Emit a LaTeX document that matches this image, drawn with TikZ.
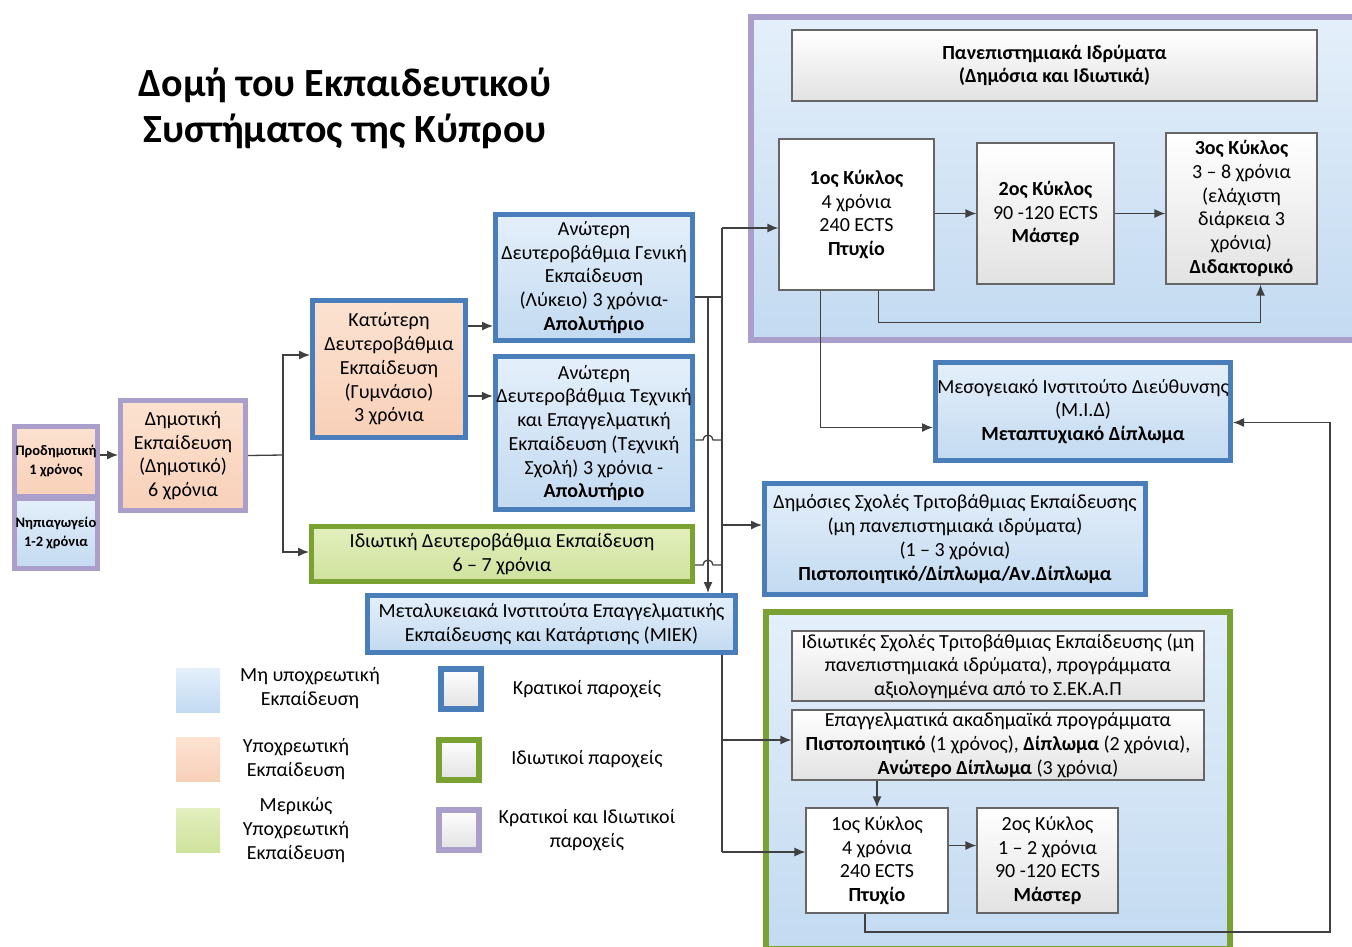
\documentclass[tikz,border=0pt]{standalone}
\usepackage{fontspec}
\setmainfont{Carlito}
\usetikzlibrary{arrows.meta,positioning,calc}

\definecolor{kratBlue}{HTML}{4A7EBB}
\definecolor{idiotGreen}{HTML}{7AA232}
\definecolor{miktoPurple}{HTML}{AA9ECB}
\definecolor{blueTop}{HTML}{E4EFFA}
\definecolor{blueBot}{HTML}{C3DAF1}
\definecolor{orangeTop}{HTML}{FCE2D1}
\definecolor{orangeBot}{HTML}{F8D0B8}
\definecolor{greenTop}{HTML}{E3EFBE}
\definecolor{greenBot}{HTML}{CFE29C}
\definecolor{greyBot}{HTML}{E2E2E2}
\definecolor{lineGrey}{HTML}{404040}

\begin{document}
\begin{tikzpicture}
  [>={Latex[length=11pt,width=9pt]}, x=1pt, y=-1pt]

% canvas
\useasboundingbox (0,0) rectangle (1352,946);

% define styles
\tikzstyle{box} = [rectangle, align=center, inner sep=1pt, text=black, font=\fontsize{20}{23.7}\selectfont];
\tikzstyle{kratiko} = [box, draw=kratBlue, line width=5pt, top color=blueTop, bottom color=blueBot];
\tikzstyle{plaisio} = [box, draw=lineGrey!80, line width=1.2pt, top color=white, bottom color=greyBot];
\tikzstyle{leuko} = [box, draw=lineGrey!80, line width=1.2pt, fill=white];
\tikzstyle{leg} = [rectangle, minimum width=40pt, minimum height=40pt];
\tikzstyle{legtext} = [align=center, font=\fontsize{20}{23.7}\selectfont];
\tikzstyle{con} = [draw=lineGrey, line width=1.3pt];

% define new commands
\newcommand{\conHop}[1]{
  \draw [con] (#1) -- ([xshift=-5pt] #1 -| drop)
    arc [start angle=180, end angle=0, radius=5pt] -- (#1 -| busTop);
}

% title
\node [align=center, font=\fontsize{40}{46}\selectfont\bfseries] (titlos) at (345,108)
  {Δομή του Εκπαιδευτικού\\Συστήματος της Κύπρου};

% outer frames
\node [draw=miktoPurple, line width=6pt, top color=blueTop, bottom color=blueBot,
  minimum width=604pt, minimum height=323pt] (panep) at (1053,178.5) {};
\node [draw=idiotGreen, line width=6pt, top color=blueTop, bottom color=blueBot,
  minimum width=464pt, minimum height=337pt] (idiotTrit) at (998,780.5) {};

% draw nodes
\node [box, draw=miktoPurple, line width=5pt, top color=orangeTop, bottom color=orangeBot,
  minimum width=83pt, minimum height=70pt, font=\fontsize{14.5}{19}\selectfont\bfseries]
  (prodim) at (56,461) {Προδημοτική\\1 χρόνος};
\node [box, draw=miktoPurple, line width=5pt, top color=blueTop, bottom color=blueBot,
  minimum width=83pt, minimum height=70pt, font=\fontsize{14.5}{19}\selectfont\bfseries]
  (nipio) at (56,533) {Νηπιαγωγείο\\1-2 χρόνια};
\node [box, draw=miktoPurple, line width=5pt, top color=orangeTop, bottom color=orangeBot,
  minimum width=125pt, minimum height=110pt] (dimotiki) at (183,455.5)
  {Δημοτική\\Εκπαίδευση\\(Δημοτικό)\\6 χρόνια};
\node [kratiko, top color=orangeTop, bottom color=orangeBot,
  minimum width=153pt, minimum height=137pt] (gymnasio) at (389,369)
  {Κατώτερη\\Δευτεροβάθμια\\Εκπαίδευση\\(Γυμνάσιο)\\3 χρόνια};
\node [kratiko, minimum width=197pt, minimum height=126pt] (lykeio) at (594,277.5)
  {Ανώτερη\\Δευτεροβάθμια Γενική\\Εκπαίδευση\\(Λύκειο) 3 χρόνια-\\\textbf{Απολυτήριο}};
\node [kratiko, minimum width=197pt, minimum height=153pt] (texniki) at (594,433)
  {Ανώτερη\\Δευτεροβάθμια Τεχνική\\και Επαγγελματική\\Εκπαίδευση (Τεχνική\\Σχολή) 3 χρόνια -\\\textbf{Απολυτήριο}};
\node [box, draw=idiotGreen, line width=5pt, top color=greenTop, bottom color=greenBot,
  minimum width=381pt, minimum height=55pt] (idiotiki) at (502,554)
  {Ιδιωτική Δευτεροβάθμια Εκπαίδευση\\6 – 7 χρόνια};
\node [kratiko, minimum width=368pt, minimum height=57pt] (miek) at (551.5,624)
  {Μεταλυκειακά Ινστιτούτα Επαγγελματικής\\Εκπαίδευσης και Κατάρτισης (ΜΙΕΚ)};

\node [plaisio, minimum width=525pt, minimum height=71pt] (panepTitlos) at (1054.5,65.5)
  {\textbf{Πανεπιστημιακά Ιδρύματα}\\\textbf{(Δημόσια και Ιδιωτικά)}};
\node [leuko, minimum width=155pt, minimum height=151pt] (kyklosA) at (856.5,214.5)
  {\textbf{1ος Κύκλος}\\4 χρόνια\\240 ECTS\\\textbf{Πτυχίο}};
\node [plaisio, minimum width=137pt, minimum height=141pt] (kyklosB) at (1045.5,213.5)
  {\textbf{2ος Κύκλος}\\90 -120 ECTS\\\textbf{Μάστερ}};
\node [plaisio, minimum width=151pt, minimum height=151pt] (kyklosC) at (1241.5,208.5)
  {\textbf{3ος Κύκλος}\\3 – 8 χρόνια\\(ελάχιστη\\διάρκεια 3\\χρόνια)\\\textbf{Διδακτορικό}};

\node [kratiko, minimum width=295pt, minimum height=98pt] (mid) at (1083,411.5)
  {Μεσογειακό Ινστιτούτο Διεύθυνσης\\(Μ.Ι.Δ)\\\textbf{Μεταπτυχιακό Δίπλωμα}};
\node [kratiko, minimum width=381pt, minimum height=111pt] (dimosies) at (955,539)
  {Δημόσιες Σχολές Τριτοβάθμιας Εκπαίδευσης\\(μη πανεπιστημιακά ιδρύματα)\\(1 – 3 χρόνια)\\\textbf{Πιστοποιητικό/Δίπλωμα/Αν.Δίπλωμα}};

\node [plaisio, minimum width=412pt, minimum height=70pt] (idiotSxoles) at (998,666)
  {Ιδιωτικές Σχολές Τριτοβάθμιας Εκπαίδευσης (μη\\πανεπιστημιακά ιδρύματα), προγράμματα\\αξιολογημένα από το Σ.ΕΚ.Α.Π};
\node [plaisio, minimum width=412pt, minimum height=70pt] (epag) at (998,745)
  {Επαγγελματικά ακαδημαϊκά προγράμματα\\\textbf{Πιστοποιητικό} (1 χρόνος), \textbf{Δίπλωμα} (2 χρόνια),\\\textbf{Ανώτερο Δίπλωμα} (3 χρόνια)};
\node [leuko, minimum width=142pt, minimum height=105pt] (ikyklosA) at (877,860.5)
  {1ος Κύκλος\\4 χρόνια\\240 ECTS\\\textbf{Πτυχίο}};
\node [plaisio, minimum width=141pt, minimum height=105pt] (ikyklosB) at (1047.5,860.5)
  {2ος Κύκλος\\1 – 2 χρόνια\\90 -120 ECTS\\\textbf{Μάστερ}};

% legend
\node [leg, top color=blueTop, bottom color=blueBot, minimum width=44pt, minimum height=44pt] (legA) at (198,690) {};
\node [leg, top color=orangeTop, bottom color=orangeBot, minimum width=44pt, minimum height=44pt] (legB) at (198,759.5) {};
\node [leg, top color=greenTop, bottom color=greenBot, minimum width=44pt, minimum height=44pt] (legC) at (198,830) {};
\node [leg, draw=kratBlue, line width=6pt, top color=white, bottom color=greyBot] (legD) at (461,688.5) {};
\node [leg, draw=idiotGreen, line width=6pt, top color=white, bottom color=greyBot] (legE) at (459,759.5) {};
\node [leg, draw=miktoPurple, line width=6pt, top color=white, bottom color=greyBot] (legF) at (459,829.5) {};
\node [legtext] (legAtxt) at (310,688) {Μη υποχρεωτική\\Εκπαίδευση};
\node [legtext] (legBtxt) at (296,759) {Υποχρεωτική\\Εκπαίδευση};
\node [legtext] (legCtxt) at (296,830) {Μερικώς\\Υποχρεωτική\\Εκπαίδευση};
\node [legtext] (legDtxt) at (587,689) {Κρατικοί παροχείς};
\node [legtext] (legEtxt) at (587,759) {Ιδιωτικοί παροχείς};
\node [legtext] (legFtxt) at (587,830) {Κρατικοί και Ιδιωτικοί\\παροχείς};

% bus coordinates
\coordinate (split) at (283,455);
\coordinate (busTop) at (722,228);
\coordinate (busBot) at (722,852);
\coordinate (drop) at (708,297);
\coordinate (texOut) at ([yshift=-7pt] texniki.east);
\coordinate (idOut) at ([yshift=-11pt] idiotiki.east);
\coordinate (retour) at (1330,932);

% pre-primary and primary
\draw [con,->] ([yshift=6pt] prodim.east) -- ([yshift=6pt] prodim.east -| dimotiki.west);
\draw [con] (dimotiki.east) -- (split);
\draw [con,->] (split) |- ([yshift=14pt] gymnasio.west);
\draw [con,->] (split) |- ([yshift=2pt] idiotiki.west);

% lower to upper secondary
\draw [con,->] ([yshift=43pt] gymnasio.east) -- ([yshift=43pt] gymnasio.east -| lykeio.west);
\draw [con,->] ([yshift=-27pt] gymnasio.east) -- ([yshift=-27pt] gymnasio.east -| texniki.west);

% secondary to bus
\draw [con] (lykeio.east |- drop) -- (drop -| busTop);
\draw [con,->] (drop) -- (drop |- miek.north);
\conHop{texOut}
\conHop{idOut}
\draw [con] (busTop) -- (busTop |- miek.north);
\draw [con] (busTop |- miek.south) -- (busBot);

% bus to tertiary
\draw [con,->] (busTop) -- (busTop -| kyklosA.west);
\draw [con,->] ([yshift=14pt] dimosies.west -| busTop) -- ([yshift=14pt] dimosies.west);
\draw [con,->] ([yshift=5pt] epag.west -| busTop) -- ([yshift=5pt] epag.west);
\draw [con,->] (busBot) -- (busBot -| ikyklosA.west);

% university cycles
\draw [con,->] (kyklosA.east |- kyklosB) -- (kyklosB.west);
\draw [con,->] (kyklosB.east) -- (kyklosB.east -| kyklosC.west);
\draw [con,->] ([xshift=22pt] kyklosA.south) -- ++(0,32) -| ([xshift=19pt] kyklosC.south);
\draw [con,->] ([xshift=-36pt] kyklosA.south) |- ([yshift=-16pt] mid.west);

% private tertiary
\draw [con,->] (epag.south -| ikyklosA.north) -- (ikyklosA.north);
\draw [con,->] ([yshift=15pt] ikyklosA.east) -- ([yshift=15pt] ikyklosA.east -| ikyklosB.west);
\draw [con,->] ([xshift=-12pt] ikyklosA.south) |- (retour) |- ([yshift=-11pt] mid.east);

\end{tikzpicture}
\end{document}
